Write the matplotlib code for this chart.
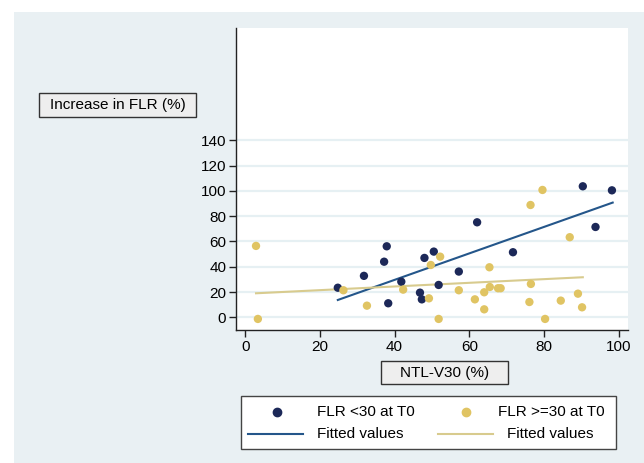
import matplotlib
matplotlib.use("Agg")
import matplotlib.pyplot as plt
from matplotlib.patches import Rectangle
from matplotlib.lines import Line2D

plt.rcParams['font.family'] = ['Liberation Sans', 'DejaVu Sans']

# FLR <30 at T0
low_x = [24.8, 31.8, 37.2, 37.9, 38.3, 41.8, 46.8, 47.3, 48.0, 50.5, 51.8,
         57.2, 62.1, 71.7, 90.4, 93.8, 98.2]
low_y = [23.4, 32.8, 44.0, 56.2, 11.1, 28.2, 19.5, 14.2, 47.0, 52.0, 25.6,
         36.2, 75.2, 51.5, 103.7, 71.5, 100.5]

# FLR >=30 at T0
high_x = [2.9, 3.4, 26.3, 32.6, 42.3, 49.2, 49.7, 52.2, 51.8, 57.2, 61.5,
          64.0, 64.0, 65.5, 65.4, 67.7, 68.4, 76.5, 76.1, 76.4, 79.6, 80.3,
          86.9, 84.5, 89.1, 90.2]
high_y = [56.5, -1.3, 21.4, 9.2, 21.9, 15.0, 41.4, 48.0, -1.3, 21.4, 14.2,
          6.3, 19.8, 24.0, 39.6, 23.0, 23.0, 26.4, 12.1, 88.9, 100.8, -1.3,
          63.4, 13.2, 18.7, 7.9]

# fitted lines (end points)
fit_low_x = [24.8, 98.4]
fit_low_y = [13.7, 90.8]
fit_high_x = [2.9, 90.4]
fit_high_y = [19.0, 31.7]

yticks = [0, 20, 40, 60, 80, 100, 120, 140]
xticks = [0, 20, 40, 60, 80, 100]

navy = '#1c2858'
gold = '#e0c463'
navy_line = '#24568a'
gold_line = '#d8cb8e'
panel = '#e9f0f3'
grid = '#e6f0f3'

W, H = 644, 463
FS = 11


def fx(px):
    return px / W


def fy(py):
    return 1 - py / H


fig = plt.figure(figsize=(W / 100, H / 100), dpi=100)
fig.patch.set_facecolor('white')

# light outer panel
fig.patches.append(Rectangle((fx(14), 0), 1 - fx(14), fy(12), transform=fig.transFigure,
                             facecolor=panel, edgecolor='none', zorder=-5))

ax = fig.add_axes([fx(236), fy(330), fx(628) - fx(236), fy(28) - fy(330)], zorder=1)
ax.set_facecolor('white')
ax.set_xlim(-2.46, 102.5)
ax.set_ylim(-10.06, 229)

for s in ['top', 'right']:
    ax.spines[s].set_visible(False)
for s in ['left', 'bottom']:
    ax.spines[s].set_color('#222222')
    ax.spines[s].set_linewidth(1.0)

ax.set_yticks(yticks)
ax.set_xticks(xticks)
ax.tick_params(axis='both', direction='out', length=5, width=1.0, color='#222222',
               labelsize=FS, labelcolor='black', pad=2)
for y in yticks:
    ax.axhline(y, color=grid, lw=1.6, zorder=0)

ax.plot(fit_low_x, fit_low_y, color=navy_line, lw=1.5, zorder=2)
ax.plot(fit_high_x, fit_high_y, color=gold_line, lw=1.5, zorder=2)
ax.scatter(low_x, low_y, s=36, color=navy, edgecolors='none', zorder=3)
ax.scatter(high_x, high_y, s=36, color=gold, edgecolors='none', zorder=3)


def title_box(x0, y0, x1, y1, label):
    fig.patches.append(Rectangle((fx(x0), fy(y1)), fx(x1) - fx(x0), fy(y0) - fy(y1),
                                 transform=fig.transFigure, facecolor='#eeeeee',
                                 edgecolor='#333333', lw=1.0, zorder=2))
    fig.text(fx((x0 + x1) / 2), fy((y0 + y1) / 2), label, ha='center', va='center',
             fontsize=FS, zorder=3)


title_box(39, 93, 196, 117, 'Increase in FLR (%)')
title_box(381, 361, 508, 384, 'NTL-V30 (%)')

# legend
fig.patches.append(Rectangle((fx(241), fy(449)), fx(616) - fx(241), fy(396) - fy(449),
                             transform=fig.transFigure, facecolor='white',
                             edgecolor='#444444', lw=1.0, zorder=2))
r1, r2 = 412, 434
fig.add_artist(Line2D([fx(277)], [fy(r1)], marker='o', ms=6, color=navy, ls='none',
                      transform=fig.transFigure, zorder=3))
fig.add_artist(Line2D([fx(466)], [fy(r1)], marker='o', ms=6, color=gold, ls='none',
                      transform=fig.transFigure, zorder=3))
fig.add_artist(Line2D([fx(248), fx(303)], [fy(r2), fy(r2)], color=navy_line, lw=1.5,
                      transform=fig.transFigure, zorder=3))
fig.add_artist(Line2D([fx(438), fx(493)], [fy(r2), fy(r2)], color=gold_line, lw=1.5,
                      transform=fig.transFigure, zorder=3))
fig.text(fx(317), fy(r1), 'FLR <30 at T0', ha='left', va='center', fontsize=FS, zorder=3)
fig.text(fx(498), fy(r1), 'FLR >=30 at T0', ha='left', va='center', fontsize=FS, zorder=3)
fig.text(fx(317), fy(r2), 'Fitted values', ha='left', va='center', fontsize=FS, zorder=3)
fig.text(fx(507), fy(r2), 'Fitted values', ha='left', va='center', fontsize=FS, zorder=3)

fig.savefig('out.png', dpi=100, facecolor='white')
